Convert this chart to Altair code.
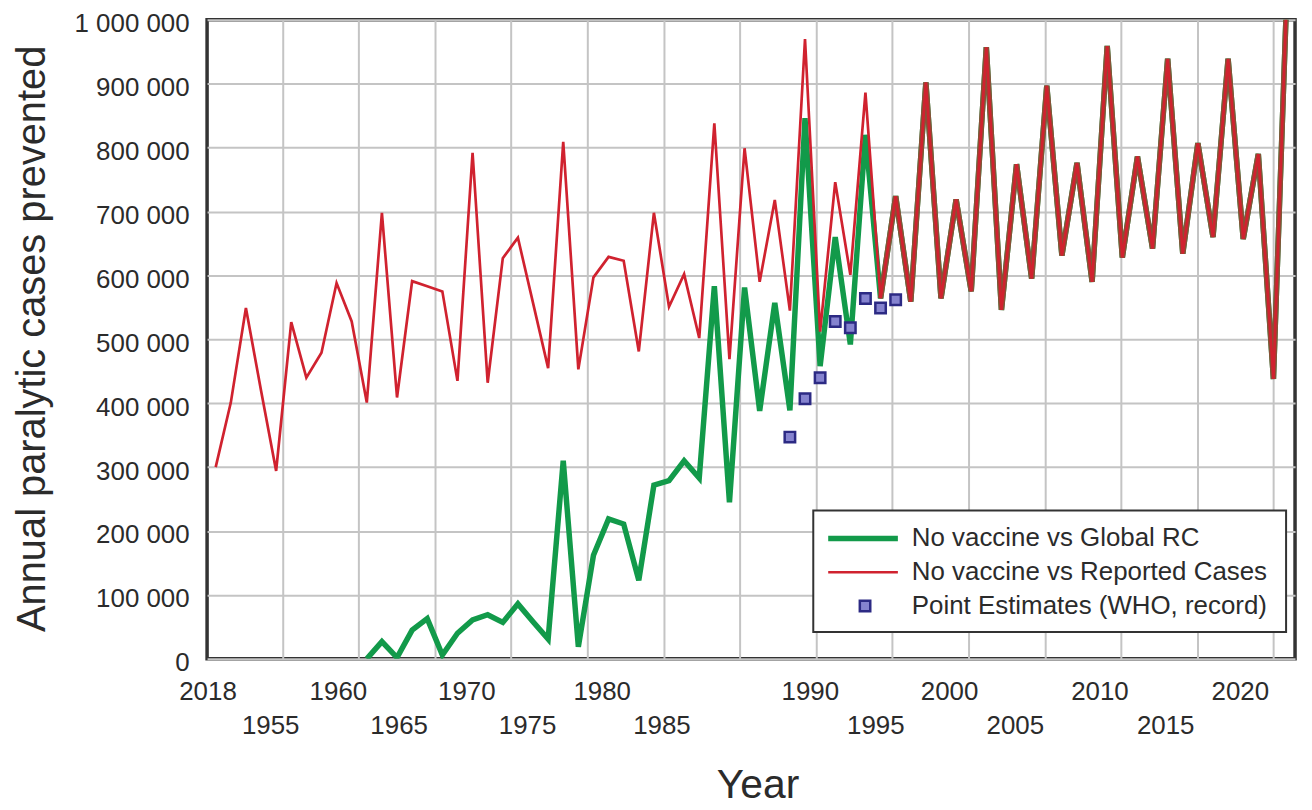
import altair as alt
import pandas as pd

# ---------------- data ----------------
years = list(range(1950, 2022))
reported_cases = [
    300000, 401000, 549000, 420000, 294000, 527000, 440000, 479000, 588000, 528000,
    401000, 698000, 409000, 591000, 583000, 575000, 435000, 792000, 432000, 627000,
    659000, 557000, 455000, 809000, 453000, 597000, 629000, 623000, 481000, 698000,
    551000, 602000, 502000, 838000, 469000, 799000, 590000, 718000, 545000, 970000,
    512000, 746000, 601000, 886000, 564000, 724000, 559000, 902000, 564000, 719000,
    575000, 957000, 546000, 774000, 595000, 897000, 631000, 776000, 590000, 959000,
    628000, 786000, 642000, 939000, 634000, 807000, 660000, 939000, 657000, 790000,
    438000, 1120000,
]

global_years = list(range(1960, 2022))
global_rc = [
    0, 27000, 2000, 45000, 63000, 6000, 40000, 61000, 69000, 57000,
    86000, 58000, 31000, 310000, 19000, 162000, 219000, 211000, 123000, 272000,
    279000, 310000, 283000, 583000, 245000, 581000, 388000, 557000, 389000, 846000,
    458000, 660000, 492000, 820000, 564000, 724000, 559000, 902000, 564000, 719000,
    575000, 957000, 546000, 774000, 595000, 897000, 631000, 776000, 590000, 959000,
    628000, 786000, 642000, 939000, 634000, 807000, 660000, 939000, 657000, 790000,
    438000, 1120000,
]

who_years = [1988, 1989, 1990, 1991, 1992, 1993, 1994, 1995]
who_values = [347000, 407000, 440000, 528000, 518000, 564000, 549000, 562000]

series_names = [
    "No vaccine vs Global RC",
    "No vaccine vs Reported Cases",
    "Point Estimates (WHO, record)",
]

y_ticks = [0, 100000, 200000, 300000, 400000, 500000, 600000, 700000, 800000, 900000, 1000000]
grid_years = [1954.41, 1959.45, 1964.5, 1969.54, 1974.59, 1979.64, 1984.68, 1989.73,
              1994.77, 1999.82, 2004.87, 2009.91, 2014.96, 2020.0]

x_labels_row1 = ["2018", "1960", "1970", "1980", "1990", "2000", "2010", "2020"]
x_label_at_row1 = [1949.49, 1958.12, 1966.62, 1975.58, 1989.35, 1998.57, 2008.52, 2017.81]
x_labels_row2 = ["1955", "1965", "1975", "1985", "1995", "2005", "2015"]
x_label_at_row2 = [1953.64, 1962.14, 1970.64, 1979.53, 1993.69, 2002.92, 2012.87]

# ---------------- styling ----------------
FONT = "Liberation Sans"
TXT = "#2b2b2b"
GREEN = "#129a4a"
RED = "#d0222f"
BROWN = "#8a5036"
NAVY = "#2c2a84"
SQFILL = "#8583cf"
GRID = "#c4c4c4"

df_rep = pd.DataFrame({"year": years, "value": reported_cases})
df_glob = pd.DataFrame({"year": global_years, "value": global_rc})
df_who = pd.DataFrame({"year": who_years, "value": who_values})
df_lab1 = pd.DataFrame({"label": x_labels_row1, "at": x_label_at_row1})
df_lab2 = pd.DataFrame({"label": x_labels_row2, "at": x_label_at_row2})

xscale = alt.Scale(domain=[1949.43, 2021.43], nice=False, zero=False)
yscale = alt.Scale(domain=[0, 1000000], nice=False, zero=True)

xaxis = alt.Axis(
    values=grid_years, grid=True, gridColor=GRID, gridWidth=2,
    labels=False, ticks=False, domain=False,
    title="Year", titleFont=FONT, titleFontSize=41, titleFontWeight="normal",
    titleColor=TXT, titleX=553, titleY=127, titleAlign="center", titleBaseline="middle",
)
yaxis = alt.Axis(
    values=y_ticks, grid=True, gridColor=GRID, gridWidth=2,
    ticks=False, tickSize=0, domain=False,
    labelFont=FONT, labelFontSize=26, labelColor=TXT, labelPadding=18,
    labelOffset=4, labelFlush=False, labelOverlap=False,
    labelExpr="replace(replace(format(datum.value, ','), ',', ' '), ',', ' ')",
    title="Annual paralytic cases prevented", titleFont=FONT, titleFontSize=40,
    titleFontWeight="normal", titleColor=TXT, titleX=-175, titleY=320,
    titleAngle=270, titleAlign="center", titleBaseline="middle",
)


def X(field):
    return alt.X(field, type="quantitative", scale=xscale, axis=xaxis)


def Y(field):
    return alt.Y(field, type="quantitative", scale=yscale, axis=yaxis)


green = alt.Chart(df_glob).mark_line(color=GREEN, strokeWidth=5.5, clip=True).encode(
    x=X("year"), y=Y("value"))
brown = alt.Chart(df_glob).transform_filter("datum.year >= 1994").mark_line(
    color=BROWN, strokeWidth=5.5, clip=True).encode(x=X("year"), y=Y("value"))
red = alt.Chart(df_rep).mark_line(color=RED, strokeWidth=2.7, clip=True).encode(
    x=X("year"), y=Y("value"))
pts = alt.Chart(df_who).mark_square(size=110, fill=SQFILL, stroke=NAVY, strokeWidth=2.5,
                                    opacity=1).encode(x=X("year"), y=Y("value"))

lab1 = alt.Chart(df_lab1).mark_text(font=FONT, fontSize=26, color=TXT, align="center",
                                    baseline="middle").encode(
    x=X("at"), y=alt.value(675), text="label:N")
lab2 = alt.Chart(df_lab2).mark_text(font=FONT, fontSize=26, color=TXT, align="center",
                                    baseline="middle").encode(
    x=X("at"), y=alt.value(710), text="label:N")

# ---------------- legend (drawn as a boxed key inside the plot) ----------------
one = pd.DataFrame({"k": [0]})
leg_box = alt.Chart(one).mark_rect(fill="white", stroke="#333333", strokeWidth=2).encode(
    x=alt.value(609), x2=alt.value(1084), y=alt.value(493), y2=alt.value(615))
leg_g = alt.Chart(one).mark_rule(color=GREEN, strokeWidth=5.5).encode(
    x=alt.value(624), x2=alt.value(694), y=alt.value(521))
leg_r = alt.Chart(one).mark_rule(color=RED, strokeWidth=2.7).encode(
    x=alt.value(624), x2=alt.value(694), y=alt.value(555))
leg_s = alt.Chart(one).mark_square(size=110, fill=SQFILL, stroke=NAVY, strokeWidth=2.5,
                                   opacity=1).encode(x=alt.value(661), y=alt.value(589))
leg_texts = []
for name, yy in zip(series_names, [521, 555, 589]):
    leg_texts.append(
        alt.Chart(pd.DataFrame({"label": [name]})).mark_text(
            font=FONT, fontSize=26, color=TXT, align="left", baseline="middle"
        ).encode(x=alt.value(708), y=alt.value(yy), text="label:N")
    )

chart = alt.layer(
    green, brown, red, pts, lab1, lab2, leg_box, leg_g, leg_r, leg_s, *leg_texts
).properties(
    width=1093, height=642,
    padding={"left": 200, "top": 10, "right": 9, "bottom": 150},
    autosize=alt.AutoSizeParams(type="none"),
    background="white",
).configure_view(stroke="#333333", strokeWidth=3.5)

chart.save("out.html", embed_options={"renderer": "svg", "actions": False})
